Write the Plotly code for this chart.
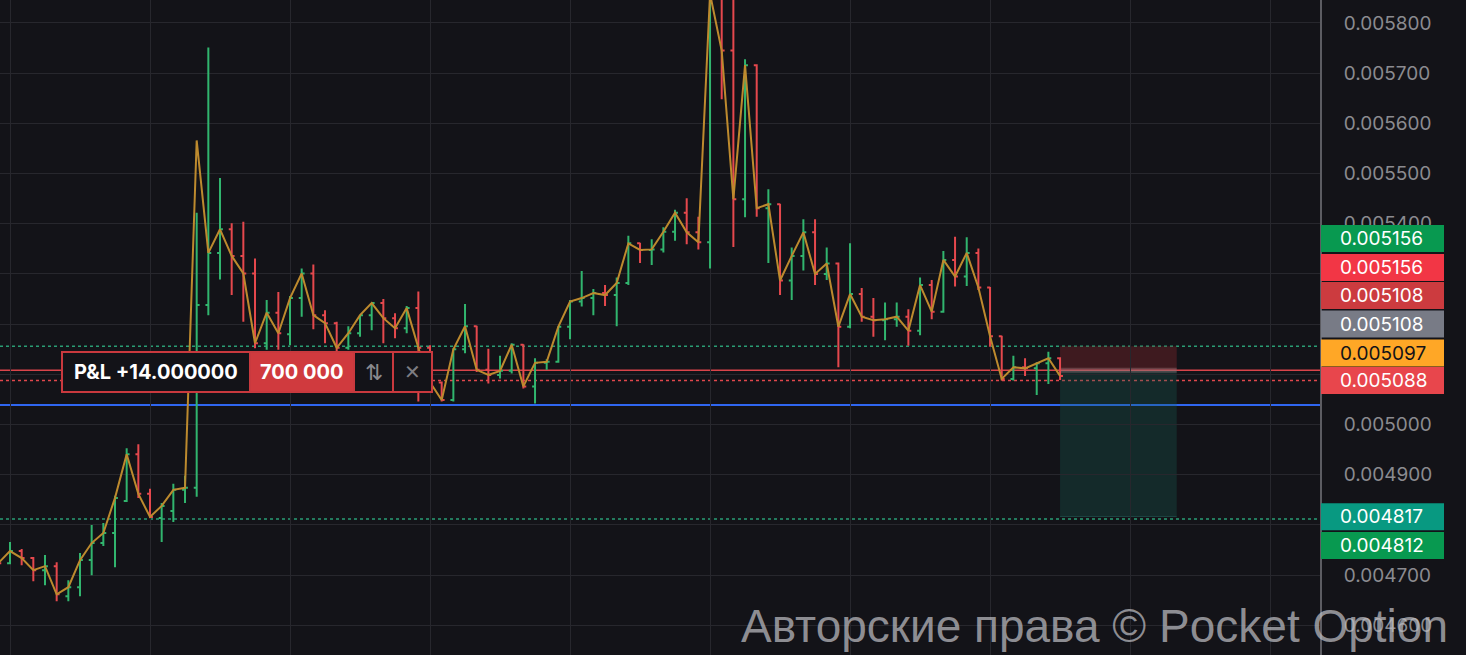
import plotly.graph_objects as go

# ---------------- data (prices) ----------------
bar_index = list(range(-1, 91))

open_ = [
    0.004738, 0.004724, 0.004748, 0.004734, 0.004710, 0.004718, 0.004658, 0.004676, 0.004730, 0.004764,
    0.004784, 0.004848, 0.004941, 0.004862, 0.004814, 0.004828, 0.004870, 0.004874, 0.005238, 0.005342,
    0.005389, 0.005336, 0.005301, 0.005162, 0.005223, 0.005180, 0.005252, 0.005301, 0.005218, 0.005202,
    0.005153, 0.005182, 0.005218, 0.005242, 0.005212, 0.005192, 0.005232, 0.005153, 0.005084, 0.005049,
    0.005150, 0.005196, 0.005109, 0.005099, 0.005107, 0.005159, 0.005076, 0.005123, 0.005125, 0.005195,
    0.005245, 0.005252, 0.005262, 0.005258, 0.005282, 0.005361, 0.005348, 0.005349, 0.005384, 0.005422,
    0.005383, 0.005363, 0.005858, 0.005745, 0.005449, 0.005716, 0.005431, 0.005439, 0.005287, 0.005336,
    0.005383, 0.005300, 0.005321, 0.005195, 0.005260, 0.005215, 0.005208, 0.005210, 0.005215, 0.005187,
    0.005278, 0.005225, 0.005328, 0.005295, 0.005342, 0.005273, 0.005176, 0.005091, 0.005114, 0.005112,
    0.005122, 0.005132,
]
high = [
    0.004746, 0.004766, 0.004752, 0.004736, 0.004740, 0.004726, 0.004690, 0.004744, 0.004800, 0.004804,
    0.004858, 0.004953, 0.004961, 0.004872, 0.004844, 0.004882, 0.004898, 0.005422, 0.005751, 0.005491,
    0.005401, 0.005404, 0.005331, 0.005248, 0.005264, 0.005256, 0.005311, 0.005319, 0.005228, 0.005205,
    0.005196, 0.005218, 0.005242, 0.005250, 0.005222, 0.005236, 0.005265, 0.005158, 0.005086, 0.005152,
    0.005240, 0.005197, 0.005151, 0.005137, 0.005162, 0.005160, 0.005132, 0.005130, 0.005196, 0.005248,
    0.005306, 0.005270, 0.005278, 0.005293, 0.005376, 0.005362, 0.005369, 0.005393, 0.005428, 0.005451,
    0.005414, 0.005880, 0.005885, 0.005870, 0.005728, 0.005718, 0.005469, 0.005440, 0.005353, 0.005409,
    0.005409, 0.005353, 0.005323, 0.005361, 0.005272, 0.005252, 0.005243, 0.005243, 0.005230, 0.005293,
    0.005288, 0.005346, 0.005374, 0.005373, 0.005351, 0.005274, 0.005177, 0.005137, 0.005132, 0.005124,
    0.005145, 0.005134,
]
low = [
    0.004718, 0.004722, 0.004720, 0.004688, 0.004680, 0.004648, 0.004648, 0.004658, 0.004700, 0.004758,
    0.004716, 0.004846, 0.004854, 0.004814, 0.004766, 0.004806, 0.004844, 0.004856, 0.005218, 0.005289,
    0.005258, 0.005205, 0.005152, 0.005149, 0.005149, 0.005158, 0.005215, 0.005190, 0.005162, 0.005145,
    0.005149, 0.005175, 0.005188, 0.005162, 0.005172, 0.005182, 0.005046, 0.005080, 0.005046, 0.005046,
    0.005142, 0.005105, 0.005082, 0.005092, 0.005102, 0.005072, 0.005042, 0.005109, 0.005123, 0.005170,
    0.005235, 0.005218, 0.005236, 0.005196, 0.005278, 0.005322, 0.005318, 0.005343, 0.005366, 0.005359,
    0.005349, 0.005311, 0.005648, 0.005354, 0.005413, 0.005414, 0.005322, 0.005258, 0.005248, 0.005307,
    0.005278, 0.005288, 0.005114, 0.005192, 0.005205, 0.005175, 0.005168, 0.005195, 0.005157, 0.005178,
    0.005210, 0.005223, 0.005275, 0.005276, 0.005268, 0.005155, 0.005088, 0.005088, 0.005097, 0.005059,
    0.005081, 0.005089,
]
close = [
    0.004724, 0.004748, 0.004734, 0.004710, 0.004718, 0.004662, 0.004676, 0.004730, 0.004764, 0.004784,
    0.004854, 0.004941, 0.004862, 0.004816, 0.004838, 0.004870, 0.004874, 0.005238, 0.005342, 0.005389,
    0.005336, 0.005301, 0.005162, 0.005223, 0.005182, 0.005252, 0.005301, 0.005218, 0.005202, 0.005153,
    0.005182, 0.005218, 0.005242, 0.005212, 0.005192, 0.005232, 0.005153, 0.005084, 0.005049, 0.005150,
    0.005196, 0.005109, 0.005099, 0.005107, 0.005159, 0.005076, 0.005123, 0.005125, 0.005195, 0.005245,
    0.005252, 0.005262, 0.005258, 0.005282, 0.005361, 0.005348, 0.005349, 0.005384, 0.005422, 0.005383,
    0.005363, 0.005858, 0.005745, 0.005449, 0.005716, 0.005431, 0.005439, 0.005287, 0.005336, 0.005383,
    0.005300, 0.005321, 0.005195, 0.005260, 0.005215, 0.005208, 0.005210, 0.005215, 0.005187, 0.005278,
    0.005225, 0.005328, 0.005295, 0.005342, 0.005273, 0.005176, 0.005091, 0.005114, 0.005112, 0.005122,
    0.005132, 0.005097,
]
# orange line series (follows the closes, except one spike)
line_vals = [
    0.004724, 0.004748, 0.004734, 0.004710, 0.004718, 0.004662, 0.004676, 0.004730, 0.004764, 0.004784,
    0.004854, 0.004941, 0.004862, 0.004816, 0.004838, 0.004870, 0.004874, 0.005566, 0.005342, 0.005389,
    0.005336, 0.005301, 0.005162, 0.005223, 0.005182, 0.005252, 0.005301, 0.005218, 0.005202, 0.005153,
    0.005182, 0.005218, 0.005242, 0.005212, 0.005192, 0.005232, 0.005153, 0.005084, 0.005049, 0.005150,
    0.005196, 0.005109, 0.005099, 0.005107, 0.005159, 0.005076, 0.005123, 0.005125, 0.005195, 0.005245,
    0.005252, 0.005262, 0.005258, 0.005282, 0.005361, 0.005348, 0.005349, 0.005384, 0.005422, 0.005383,
    0.005363, 0.005858, 0.005745, 0.005449, 0.005716, 0.005431, 0.005439, 0.005287, 0.005336, 0.005383,
    0.005300, 0.005321, 0.005195, 0.005260, 0.005215, 0.005208, 0.005210, 0.005215, 0.005187, 0.005278,
    0.005225, 0.005328, 0.005295, 0.005342, 0.005273, 0.005176, 0.005091, 0.005114, 0.005112, 0.005122,
    0.005132, 0.005097,
]

# trade levels
entry_price = 0.005108
stop_price = 0.005156
take_price = 0.004817
take_line = 0.004812
alert_price = 0.005088
blue_level = 0.005039
trade_start_bar = 90
trade_end_bar = 100

# axis ticks (those fully hidden behind price labels have no visible text)
tick_values = [0.0046, 0.0047, 0.0048, 0.0049, 0.0050, 0.0051, 0.0052, 0.0053, 0.0054, 0.0055, 0.0056, 0.0057, 0.0058]
tick_texts = ["0.004600", "0.004700", "", "0.004900", "0.005000", "", "", "", "0.005400", "0.005500",
              "0.005600", "0.005700", "0.005800"]

# right-hand price labels
label_texts = ["0.005156", "0.005156", "0.005108", "0.005108", "0.005097", "0.005088", "0.004817", "0.004812"]
label_colors = ["#089950", "#f23645", "#cc3b3f", "#787b86", "#ffa726", "#e8464c", "#089981", "#089950"]
label_text_colors = ["#ffffff", "#ffffff", "#ffffff", "#ffffff", "#131318", "#ffffff", "#ffffff", "#ffffff"]

pnl_text = "P&amp;L +14.000000"
amount_text = "700 000"
watermark = "Авторские права © Pocket Option"

# ---------------- style / layout ----------------
W, H = 1466, 655
PLOT_W, PLOT_H = 1320, 655
BG = "#131318"
GRID = "#27272d"
GREEN = "#31b56e"
RED = "#e5484d"
ORANGE = "#bd8a2e"
label_slots_px = [238.5, 267.5, 295.5, 324, 353, 380.5, 516.7, 545.5]


def px_x(px):
    return px / PLOT_W


def px_y(py):
    return 1 - py / PLOT_H


fig = go.Figure()
fig.add_trace(go.Ohlc(
    x=bar_index, open=open_, high=high, low=low, close=close,
    increasing=dict(line=dict(color=GREEN, width=2)),
    decreasing=dict(line=dict(color=RED, width=2)),
    tickwidth=0.25, hoverinfo="skip", showlegend=False,
))
fig.add_trace(go.Scatter(
    x=bar_index, y=line_vals, mode="lines",
    line=dict(color=ORANGE, width=2), hoverinfo="skip", showlegend=False,
))

shapes = []
# position tool (short): risk zone + reward zone
shapes.append(dict(type="rect", xref="x", yref="y", x0=trade_start_bar, x1=trade_end_bar,
                   y0=entry_price, y1=stop_price, fillcolor="rgba(122,36,44,0.42)",
                   line=dict(width=0), layer="below"))
shapes.append(dict(type="rect", xref="x", yref="y", x0=trade_start_bar, x1=trade_end_bar,
                   y0=take_price, y1=entry_price, fillcolor="rgba(22,96,87,0.30)",
                   line=dict(width=0), layer="below"))
shapes.append(dict(type="line", xref="x", yref="y", x0=trade_start_bar, x1=trade_end_bar,
                   y0=take_price, y1=take_price, line=dict(color="rgba(40,110,100,0.5)", width=1),
                   layer="below"))
shapes.append(dict(type="line", xref="x", yref="y", x0=trade_start_bar, x1=trade_end_bar,
                   y0=entry_price, y1=entry_price, line=dict(color="rgba(200,150,155,0.30)", width=5),
                   layer="below"))
# horizontal levels
for lvl, col, dash, wd in [
    (stop_price, "#2a9d74", "dot", 1.5),
    (take_line, "#2a9d74", "dot", 1.5),
    (alert_price, "#e0474c", "dot", 1.5),
    (entry_price, "#d9444a", "solid", 1.5),
    (blue_level, "#2f66f0", "solid", 2),
]:
    shapes.append(dict(type="line", xref="paper", yref="y", x0=0, x1=1, y0=lvl, y1=lvl,
                       line=dict(color=col, width=wd, dash=dash), layer="below"))

# P&L widget
box_top, box_bot = 352, 392
segs = [(62, 250, "#131318"), (250, 354, "#d03a3e"), (354, 393, "#131318"), (393, 432, "#131318")]
for x0, x1, c in segs:
    shapes.append(dict(type="rect", xref="paper", yref="paper", x0=px_x(x0), x1=px_x(x1),
                       y0=px_y(box_bot), y1=px_y(box_top), fillcolor=c,
                       line=dict(color="#c9393e", width=2), layer="above"))

# price label boxes
for slot, col in zip(label_slots_px, label_colors):
    shapes.append(dict(type="rect", xref="paper", yref="paper", x0=px_x(1321), x1=px_x(1444),
                       y0=px_y(slot + 13.5), y1=px_y(slot - 13.5), fillcolor=col,
                       line=dict(width=0), layer="above"))

annotations = []
annotations.append(dict(xref="paper", yref="paper", x=px_x(156), y=px_y(372), text="<b>" + pnl_text + "</b>",
                        showarrow=False, font=dict(family="Inter, Roboto, sans-serif", size=20, color="#ffffff"),
                        xanchor="center", yanchor="middle"))
annotations.append(dict(xref="paper", yref="paper", x=px_x(302), y=px_y(372), text="<b>" + amount_text + "</b>",
                        showarrow=False, font=dict(family="Inter, Roboto, sans-serif", size=20, color="#ffffff"),
                        xanchor="center", yanchor="middle"))
annotations.append(dict(xref="paper", yref="paper", x=px_x(373.5), y=px_y(372), text="⇅",
                        showarrow=False, font=dict(family="DejaVu Sans", size=22, color="#8a8a8e"),
                        xanchor="center", yanchor="middle"))
annotations.append(dict(xref="paper", yref="paper", x=px_x(412.5), y=px_y(372), text="✕",
                        showarrow=False, font=dict(family="DejaVu Sans", size=20, color="#7d7d82"),
                        xanchor="center", yanchor="middle"))
for slot, txt, tcol in zip(label_slots_px, label_texts, label_text_colors):
    annotations.append(dict(xref="paper", yref="paper", x=px_x(1338), y=px_y(slot), text=txt,
                            showarrow=False, font=dict(family="Inter, Roboto, sans-serif", size=19, color=tcol),
                            xanchor="left", yanchor="middle"))
annotations.append(dict(xref="paper", yref="paper", x=px_x(1450), y=px_y(626), text=watermark,
                        showarrow=False,
                        font=dict(family="Liberation Sans, Arial, sans-serif", size=46, color="rgba(190,190,195,0.72)"),
                        xanchor="right", yanchor="middle"))

fig.update_layout(
    width=W, height=H,
    margin=dict(l=0, r=W - PLOT_W, t=0, b=0),
    paper_bgcolor=BG, plot_bgcolor=BG,
    showlegend=False,
    shapes=shapes, annotations=annotations,
    xaxis=dict(range=[-0.857, 112.28], tick0=0, dtick=12, showgrid=True, gridcolor=GRID, gridwidth=1,
               showticklabels=False, zeroline=False, showline=False, ticks="",
               rangeslider=dict(visible=False), fixedrange=True),
    yaxis=dict(side="right", range=[0.004541, 0.0058458], tickmode="array",
               tickvals=tick_values, ticktext=tick_texts,
               showgrid=True, gridcolor=GRID, gridwidth=1, zeroline=False,
               showline=True, linecolor="#5c5c62", linewidth=2, ticks="",
               ticklabelstandoff=18,
               tickfont=dict(family="Inter, Roboto, sans-serif", size=19, color="#8b8b90"),
               fixedrange=True),
)

fig.write_html("out.html", config={"displayModeBar": False},
               post_script="document.body.style.margin='0px';")
